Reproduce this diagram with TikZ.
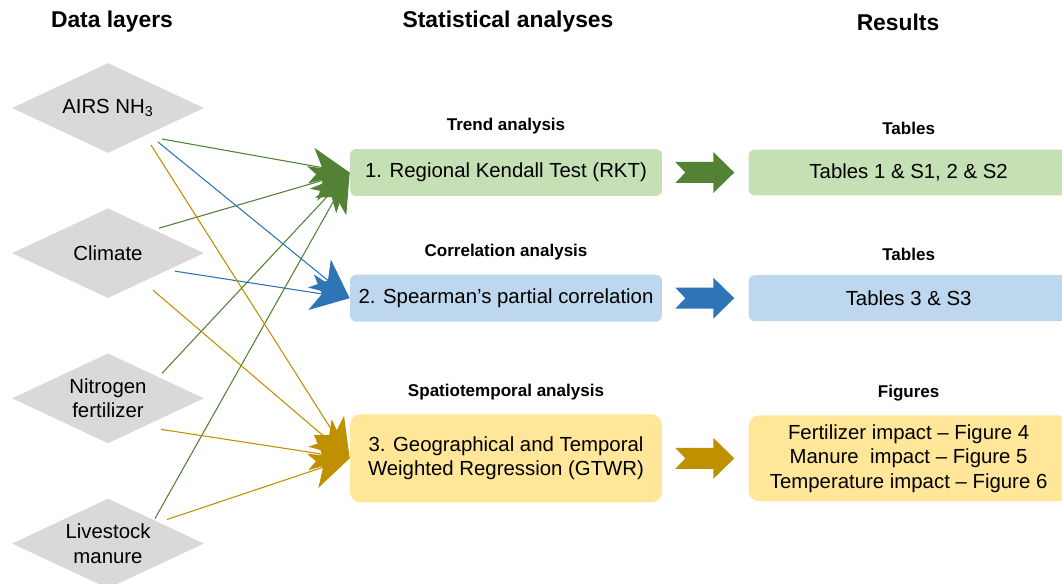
\documentclass[tikz,border=0pt]{standalone}
\usepackage{fontspec}
\setmainfont{Liberation Sans}
\usetikzlibrary{shapes.geometric, arrows.meta, positioning, calc}
\definecolor{layergray}{RGB}{217,217,217}
\definecolor{trendfill}{RGB}{197,224,180}
\definecolor{trenddark}{RGB}{84,130,53}
\definecolor{corrfill}{RGB}{189,215,238}
\definecolor{corrdark}{RGB}{46,117,182}
\definecolor{gtwrfill}{RGB}{255,230,153}
\definecolor{gtwrdark}{RGB}{191,144,0}
\tikzset{
  % Data layer diamond
  layer/.style={
    diamond, aspect=2.13, fill=layergray, minimum width=3.84cm, minimum height=1.8cm,
    inner sep=0pt, align=center, font=\fontsize{11.6}{14}\selectfont
  },
  % Analysis / result block (parameterized by color)
  methodbox/.style={
    rectangle, rounded corners=3.5pt, fill=#1, minimum width=6.24cm, minimum height=0.94cm,
    align=center, font=\fontsize{11.6}{14}\selectfont
  },
  resultbox/.style={
    rectangle, rounded corners=3.5pt, fill=#1, minimum width=6.4cm, minimum height=0.92cm,
    align=center, font=\fontsize{11.6}{14}\selectfont
  },
  heading/.style={font=\fontsize{13}{15}\selectfont\bfseries},
  sublabel/.style={font=\fontsize{9.7}{12}\selectfont\bfseries},
  % Thin input link with a big head
  inlink/.style={-{Stealth[length=0.78cm, width=0.72cm, inset=0.22cm]}, line width=0.6pt, draw=#1, fill=#1}
}
% Notched block arrow between two nodes
\newcommand{\blockarrow}[3]{%
  \path (#1.east) -- (#2.west) coordinate[midway] (#1-mid);
  \begin{scope}[shift={(#1-mid)}]
    \fill[#3] (-30,-10.5) -- (-20,0) -- (-30,10.5) -- (8,10.5) -- (8,20.5)
      -- (29,0) -- (8,-20.5) -- (8,-10.5) -- cycle;
  \end{scope}
}

\begin{document}
\begin{tikzpicture}[x=0.02cm, y=-0.02cm]
  \useasboundingbox (0,0) rectangle (1062,584);

  % Column headings
  \node[heading] (hlayers) at (112,22) {Data layers};
  \node[heading] (hstats) at (508,22) {Statistical analyses};
  \node[heading] (hresults) at (898,22) {Results};

  % Data layers
  \node[layer] (airs) at (108,108) {AIRS NH\textsubscript{3}};
  \node[layer, below=1.09cm of airs] (climate) {Climate};
  \node[layer, below=1.09cm of climate] (nitro) {Nitrogen\\fertilizer};
  \node[layer, below=1.09cm of nitro] (manure) {Livestock\\manure};

  % Analyses
  \node[methodbox=trendfill] (rkt) at (506,172.5) {1. Regional Kendall Test (RKT)};
  \node[methodbox=corrfill, below=1.56cm of rkt] (spear) {2. Spearman's partial correlation};
  \node[methodbox=gtwrfill, below=1.84cm of spear, minimum height=1.76cm, rounded corners=6pt] (gtwr)
    {3. Geographical and Temporal\\Weighted Regression (GTWR)};

  \node[sublabel, above=0.16cm of rkt] (ltrend) {Trend analysis};
  \node[sublabel, above=0.16cm of spear] (lcorr) {Correlation analysis};
  \node[sublabel, above=0.16cm of gtwr] (lspace) {Spatiotemporal analysis};

  % Results
  \node[resultbox=trendfill, right=1.72cm of rkt] (tab1) {Tables 1 \& S1, 2 \& S2};
  \node[resultbox=corrfill, right=1.72cm of spear] (tab2) {Tables 3 \& S3};
  \node[resultbox=gtwrfill, right=1.72cm of gtwr, minimum height=1.72cm, rounded corners=6pt] (figs)
    {Fertilizer impact -- Figure 4\\Manure\ \ impact -- Figure 5\\Temperature impact -- Figure 6};

  \node[sublabel, above=0.16cm of tab1] (ltab1) {Tables};
  \node[sublabel, above=0.16cm of tab2] (ltab2) {Tables};
  \node[sublabel, above=0.16cm of figs] (lfigs) {Figures};

  % Inputs to RKT
  \draw[inlink=trenddark] ($(airs.center)+(54,31)$) -- (rkt.west);
  \draw[inlink=trenddark] ($(climate.center)+(51,-25)$) -- (rkt.west);
  \draw[inlink=trenddark] ($(nitro.center)+(54,-25)$) -- (rkt.west);
  \draw[inlink=trenddark] ($(manure.center)+(47,-25)$) -- (rkt.west);

  % Inputs to Spearman
  \draw[inlink=corrdark] ($(airs.center)+(50,34)$) -- (spear.west);
  \draw[inlink=corrdark] ($(climate.center)+(67,18)$) -- (spear.west);

  % Inputs to GTWR
  \draw[inlink=gtwrdark] ($(airs.center)+(43,37)$) -- (gtwr.west);
  \draw[inlink=gtwrdark] ($(climate.center)+(45,37)$) -- (gtwr.west);
  \draw[inlink=gtwrdark] ($(nitro.center)+(53,31)$) -- (gtwr.west);
  \draw[inlink=gtwrdark] ($(manure.center)+(59,-24)$) -- (gtwr.west);

  % Analyses to results
  \blockarrow{rkt}{tab1}{trenddark}
  \blockarrow{spear}{tab2}{corrdark}
  \blockarrow{gtwr}{figs}{gtwrdark}
\end{tikzpicture}
\end{document}
